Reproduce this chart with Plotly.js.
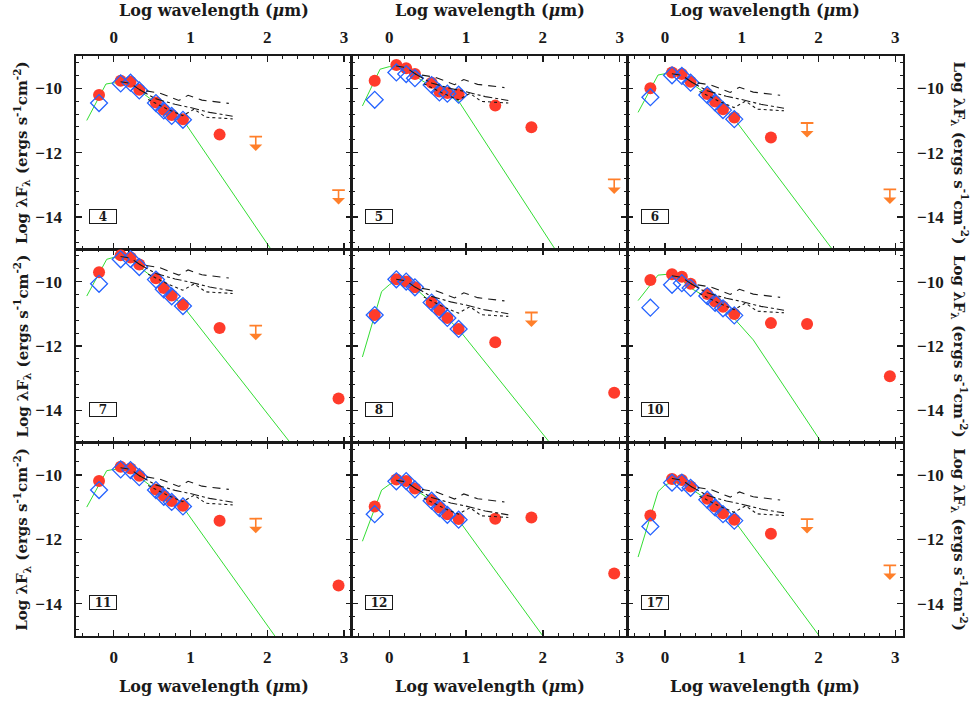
<!DOCTYPE html>
<html><head><meta charset="utf-8">
<script src="https://cdn.plot.ly/plotly-3.0.1.min.js"></script>
<style>html,body{margin:0;padding:0;background:#fff}#chart{width:971px;height:702px}</style>
</head><body><div id="chart"></div>
<script>
// ---------- data ----------
const panelIds = ['4','5','6','7','8','10','11','12','17'];
const xTickVals = [0, 1, 2, 3];
const xTickText = ['0', '1', '2', '3'];
const yTickVals = [-14, -12, -10];
const yTickText = ['\u221214', '\u221212', '\u221210'];

// photometric bands (log micron)
const dotX  = [-0.19, 0.092, 0.22, 0.334, 0.551, 0.653, 0.756, 0.903, 1.380, 1.851, 2.929];
const diamX = [-0.19, 0.092, 0.22, 0.334, 0.551, 0.653, 0.756, 0.903];

const p4Dots  = [-10.21, -9.77, -9.80, -10.05, -10.44, -10.67, -10.83, -10.96, -11.44, null, null];
const p5Dots  = [-9.77, -9.28, -9.38, -9.56, -9.83, -10.10, -10.15, -10.19, -10.54, -11.21, null];
const p6Dots  = [-10.00, -9.51, -9.56, -9.80, -10.18, -10.41, -10.65, -10.91, -11.53, null, null];
const p7Dots  = [-9.71, -9.18, -9.25, -9.47, -9.90, -10.20, -10.43, -10.72, -11.44, null, -13.63];
const p8Dots  = [-11.04, -9.93, -10.00, -10.18, -10.65, -10.88, -11.13, -11.47, -11.88, null, -13.45];
const p10Dots = [-9.95, -9.77, -9.85, -10.07, -10.39, -10.62, -10.78, -11.01, -11.29, -11.32, -12.94];
const p11Dots = [-10.19, -9.75, -9.80, -10.03, -10.45, -10.65, -10.81, -10.96, -11.42, null, -13.43];
const p12Dots = [-10.98, -10.14, -10.19, -10.42, -10.78, -11.01, -11.22, -11.37, -11.36, -11.32, -13.06];
const p17Dots = [-11.26, -10.13, -10.16, -10.36, -10.74, -10.98, -11.19, -11.39, -11.83, null, null];

const p4Diam  = [-10.46, -9.85, -9.83, -10.07, -10.46, -10.69, -10.86, -10.98];
const p5Diam  = [-10.36, -9.51, -9.56, -9.69, -9.90, -10.13, -10.17, -10.20];
const p6Diam  = [-10.28, -9.60, -9.62, -9.83, -10.21, -10.44, -10.68, -10.96];
const p7Diam  = [-10.07, -9.31, -9.30, -9.55, -9.94, -10.24, -10.46, -10.76];
const p8Diam  = [-11.04, -9.93, -10.00, -10.18, -10.65, -10.88, -11.13, -11.47];
const p10Diam = [-10.81, -10.10, -10.05, -10.20, -10.45, -10.66, -10.83, -11.05];
const p11Diam = [-10.47, -9.83, -9.85, -10.07, -10.47, -10.68, -10.84, -10.98];
const p12Diam = [-11.22, -10.20, -10.19, -10.45, -10.80, -11.03, -11.24, -11.39];
const p17Diam = [-11.60, -10.24, -10.24, -10.40, -10.77, -11.01, -11.22, -11.42];

// upper limits
const p4ULx  = [1.851, 2.929], p4ULy  = [-11.50, -13.16];
const p5ULx  = [2.929],        p5ULy  = [-12.83];
const p6ULx  = [1.851, 2.929], p6ULy  = [-11.08, -13.14];
const p7ULx  = [1.851],        p7ULy  = [-11.37];
const p8ULx  = [1.851],        p8ULy  = [-10.96];
const p10ULx = [],             p10ULy = [];
const p11ULx = [1.851],        p11ULy = [-11.36];
const p12ULx = [],             p12ULy = [];
const p17ULx = [1.851, 2.929], p17ULy = [-11.37, -12.81];

// stellar photosphere (green)
const p4GreenX  = [-0.35, -0.1, 0.0, 0.092, 0.22, 0.334, 0.551, 0.903, 2.05];
const p4GreenY  = [-11.00, -9.87, -9.83, -9.85, -9.90, -10.07, -10.46, -10.98, -15.0];
const p5GreenX  = [-0.35, -0.12, 0.0, 0.092, 0.22, 0.334, 0.551, 0.903, 2.16];
const p5GreenY  = [-10.55, -9.41, -9.33, -9.35, -9.45, -9.62, -9.95, -10.40, -15.0];
const p6GreenX  = [-0.35, -0.09, 0.0, 0.092, 0.22, 0.334, 0.551, 0.903, 2.18];
const p6GreenY  = [-10.75, -9.59, -9.55, -9.58, -9.62, -9.83, -10.20, -10.95, -15.0];
const p7GreenX  = [-0.35, -0.09, 0.0, 0.092, 0.22, 0.334, 0.551, 0.903, 2.30];
const p7GreenY  = [-10.45, -9.31, -9.25, -9.30, -9.32, -9.55, -9.94, -10.76, -15.0];
const p8GreenX  = [-0.35, -0.10, 0.0, 0.092, 0.22, 0.334, 0.551, 0.903, 2.09];
const p8GreenY  = [-12.34, -10.31, -10.10, -9.95, -10.00, -10.20, -10.66, -11.48, -15.0];
const p10GreenX = [-0.35, -0.09, 0.05, 0.092, 0.22, 0.334, 0.551, 0.903, 1.15, 2.04];
const p10GreenY = [-10.59, -9.80, -9.77, -9.80, -9.95, -10.20, -10.50, -11.15, -11.81, -15.0];
const p11GreenX = [-0.35, -0.09, 0.0, 0.092, 0.22, 0.334, 0.551, 0.903, 2.10];
const p11GreenY = [-11.00, -9.87, -9.83, -9.85, -9.88, -10.07, -10.47, -11.00, -15.0];
const p12GreenX = [-0.35, -0.10, 0.0, 0.092, 0.22, 0.334, 0.551, 0.903, 2.00];
const p12GreenY = [-12.06, -10.47, -10.30, -10.20, -10.20, -10.45, -10.80, -11.40, -15.0];
const p17GreenX = [-0.35, -0.09, 0.0, 0.092, 0.22, 0.334, 0.551, 0.903, 2.01];
const p17GreenY = [-12.55, -10.52, -10.31, -10.24, -10.26, -10.42, -10.77, -11.42, -15.0];

// disk models (black broken curves)
const bkUx = [0.09, 0.22, 0.34, 0.6, 0.85, 0.97, 1.15, 1.5];
const bkMx = [0.34, 0.55, 0.8, 1.0, 1.25, 1.55];
const bkLx = [0.45, 0.7, 0.9, 1.05, 1.2, 1.55];
const p4BkU  = [-9.80, -9.85, -10.05, -10.15, -10.38, -10.22, -10.37, -10.47];
const p4BkM  = [-10.05, -10.33, -10.50, -10.60, -10.75, -10.87];
const p4BkL  = [-10.35, -10.65, -10.85, -10.65, -10.90, -10.95];
const p5BkU  = [-9.31, -9.36, -9.56, -9.66, -9.89, -9.73, -9.88, -9.98];
const p5BkM  = [-9.56, -9.84, -10.01, -10.11, -10.26, -10.38];
const p5BkL  = [-9.86, -10.16, -10.36, -10.16, -10.41, -10.46];
const p6BkU  = [-9.55, -9.60, -9.80, -9.90, -10.13, -9.97, -10.12, -10.22];
const p6BkM  = [-9.80, -10.08, -10.25, -10.35, -10.50, -10.62];
const p6BkL  = [-10.10, -10.40, -10.60, -10.40, -10.65, -10.70];
const p7BkU  = [-9.22, -9.27, -9.47, -9.57, -9.80, -9.64, -9.79, -9.89];
const p7BkM  = [-9.47, -9.75, -9.92, -10.02, -10.17, -10.29];
const p7BkL  = [-9.77, -10.07, -10.27, -10.07, -10.32, -10.37];
const p8BkU  = [-9.93, -9.98, -10.18, -10.28, -10.51, -10.35, -10.50, -10.60];
const p8BkM  = [-10.18, -10.46, -10.63, -10.73, -10.88, -11.00];
const p8BkL  = [-10.48, -10.78, -10.98, -10.78, -11.03, -11.08];
const p10BkU = [-9.82, -9.87, -10.07, -10.17, -10.40, -10.24, -10.39, -10.49];
const p10BkM = [-10.07, -10.35, -10.52, -10.62, -10.77, -10.89];
const p10BkL = [-10.37, -10.67, -10.87, -10.67, -10.92, -10.97];
const p11BkU = [-9.78, -9.83, -10.03, -10.13, -10.36, -10.20, -10.35, -10.45];
const p11BkM = [-10.03, -10.31, -10.48, -10.58, -10.73, -10.85];
const p11BkL = [-10.33, -10.63, -10.83, -10.63, -10.88, -10.93];
const p12BkU = [-10.17, -10.22, -10.42, -10.52, -10.75, -10.59, -10.74, -10.84];
const p12BkM = [-10.42, -10.70, -10.87, -10.97, -11.12, -11.24];
const p12BkL = [-10.72, -11.02, -11.22, -11.02, -11.27, -11.32];
const p17BkU = [-10.11, -10.16, -10.36, -10.46, -10.69, -10.53, -10.68, -10.78];
const p17BkM = [-10.36, -10.64, -10.81, -10.91, -11.06, -11.18];
const p17BkL = [-10.66, -10.96, -11.16, -10.96, -11.21, -11.26];

const xTitle = 'Log wavelength (<i>\u03bc</i>m)';
const yTitle = 'Log \u03bbF<sub>\u03bb</sub> (ergs s<sup>-1</sup>cm<sup>-2</sup>)';

// ---------- assembly ----------
const panels = [
  {id: panelIds[0], dots: p4Dots,  diam: p4Diam,  ulx: p4ULx,  uly: p4ULy,  gx: p4GreenX,  gy: p4GreenY,  bu: p4BkU,  bm: p4BkM,  bl: p4BkL},
  {id: panelIds[1], dots: p5Dots,  diam: p5Diam,  ulx: p5ULx,  uly: p5ULy,  gx: p5GreenX,  gy: p5GreenY,  bu: p5BkU,  bm: p5BkM,  bl: p5BkL},
  {id: panelIds[2], dots: p6Dots,  diam: p6Diam,  ulx: p6ULx,  uly: p6ULy,  gx: p6GreenX,  gy: p6GreenY,  bu: p6BkU,  bm: p6BkM,  bl: p6BkL},
  {id: panelIds[3], dots: p7Dots,  diam: p7Diam,  ulx: p7ULx,  uly: p7ULy,  gx: p7GreenX,  gy: p7GreenY,  bu: p7BkU,  bm: p7BkM,  bl: p7BkL},
  {id: panelIds[4], dots: p8Dots,  diam: p8Diam,  ulx: p8ULx,  uly: p8ULy,  gx: p8GreenX,  gy: p8GreenY,  bu: p8BkU,  bm: p8BkM,  bl: p8BkL},
  {id: panelIds[5], dots: p10Dots, diam: p10Diam, ulx: p10ULx, uly: p10ULy, gx: p10GreenX, gy: p10GreenY, bu: p10BkU, bm: p10BkM, bl: p10BkL},
  {id: panelIds[6], dots: p11Dots, diam: p11Diam, ulx: p11ULx, uly: p11ULy, gx: p11GreenX, gy: p11GreenY, bu: p11BkU, bm: p11BkM, bl: p11BkL},
  {id: panelIds[7], dots: p12Dots, diam: p12Diam, ulx: p12ULx, uly: p12ULy, gx: p12GreenX, gy: p12GreenY, bu: p12BkU, bm: p12BkM, bl: p12BkL},
  {id: panelIds[8], dots: p17Dots, diam: p17Diam, ulx: p17ULx, uly: p17ULy, gx: p17GreenX, gy: p17GreenY, bu: p17BkU, bm: p17BkM, bl: p17BkL}
];

const RED = '#ff3b2b', BLUE = '#2563ff', GREEN = '#33dd33', ORANGE = '#ff7f2a', INK = '#1a1a1a';
const FONT = 'DejaVu Serif, Liberation Serif, serif';
const TICKFONT = 'Liberation Serif, DejaVu Serif, serif';

const traces = [];
const annotations = [];
const layout = {
  width: 971, height: 702,
  margin: {l: 76, r: 68, t: 56, b: 66, pad: 0},
  paper_bgcolor: '#fff', plot_bgcolor: '#fff',
  showlegend: false, hovermode: false,
  font: {family: FONT, color: INK}
};

panels.forEach((p, k) => {
  const r = Math.floor(k / 3), c = k % 3;
  const s = k === 0 ? '' : String(k + 1);
  const xa = 'x' + s, ya = 'y' + s;

  layout['xaxis' + s] = {
    domain: [c / 3, (c + 1) / 3], anchor: ya,
    range: [-0.49, 3.1], showgrid: false, zeroline: false,
    showline: true, linecolor: INK, linewidth: 1.6, mirror: 'allticks',
    ticks: 'inside', ticklen: 6, tickwidth: 1.3, tickcolor: INK,
    tickmode: 'array', tickvals: xTickVals, ticktext: xTickText,
    showticklabels: r !== 1, side: r === 0 ? 'top' : 'bottom',
    ticklabelstandoff: 5,
    minor: {tickmode: 'linear', tick0: 0, dtick: 0.2, ticks: 'inside', ticklen: 3, tickwidth: 1, tickcolor: INK},
    tickfont: {family: TICKFONT, size: 17, weight: 'bold', color: INK}
  };
  layout['yaxis' + s] = {
    domain: [1 - (r + 1) / 3, 1 - r / 3], anchor: xa,
    range: [-15, -9], showgrid: false, zeroline: false,
    showline: true, linecolor: INK, linewidth: 1.6, mirror: 'allticks',
    ticks: 'inside', ticklen: 6, tickwidth: 1.3, tickcolor: INK,
    tickmode: 'array', tickvals: yTickVals, ticktext: yTickText,
    showticklabels: c !== 1, side: c === 2 ? 'right' : 'left',
    ticklabelstandoff: 9,
    minor: {tickmode: 'linear', tick0: -10, dtick: 0.4, ticks: 'inside', ticklen: 3, tickwidth: 1, tickcolor: INK},
    tickfont: {family: TICKFONT, size: 17, weight: 'bold', color: INK}
  };

  traces.push({x: p.gx, y: p.gy, xaxis: xa, yaxis: ya, mode: 'lines',
    line: {color: GREEN, width: 1}});
  traces.push({x: dotX, y: p.dots, xaxis: xa, yaxis: ya, mode: 'markers',
    marker: {symbol: 'circle', size: 12, color: RED, line: {width: 0}}});
  traces.push({x: diamX, y: p.diam, xaxis: xa, yaxis: ya, mode: 'markers',
    marker: {symbol: 'diamond-open', size: 13, color: BLUE, line: {width: 1.3, color: BLUE}}});
  traces.push({x: bkUx, y: p.bu, xaxis: xa, yaxis: ya, mode: 'lines',
    line: {color: INK, width: 1.1, dash: '8px,6px'}});
  traces.push({x: bkMx, y: p.bm, xaxis: xa, yaxis: ya, mode: 'lines',
    line: {color: INK, width: 1.1, dash: 'dashdot'}});
  traces.push({x: bkLx, y: p.bl, xaxis: xa, yaxis: ya, mode: 'lines',
    line: {color: INK, width: 1.1, dash: 'dot'}});
  if (p.ulx.length) {
    traces.push({x: p.ulx, y: p.uly, xaxis: xa, yaxis: ya, mode: 'markers',
      marker: {symbol: 'line-ew', size: 9, color: ORANGE, line: {width: 1.8, color: ORANGE}}});
    p.ulx.forEach((ux, i) => {
      annotations.push({xref: xa, yref: ya, x: ux, y: p.uly[i], text: '',
        showarrow: true, ax: 0, ay: 16, arrowside: 'start',
        startarrowhead: 1, startarrowsize: 1.35, arrowwidth: 1.6, arrowcolor: ORANGE});
    });
  }

  annotations.push({xref: xa, yref: ya, x: -0.135, y: -13.97, text: '<b>' + p.id + '</b>',
    showarrow: false, font: {family: FONT, size: 12, color: INK},
    bordercolor: INK, borderwidth: 1, borderpad: 1, width: 24, height: 11, bgcolor: '#fff'});
});

// axis titles as annotations
for (let c = 0; c < 3; c++) {
  const cx = (c + 0.5) / 3;
  annotations.push({xref: 'paper', yref: 'paper', x: cx, y: 1.079, text: xTitle, showarrow: false,
    font: {family: FONT, size: 16, weight: 'bold', color: INK}, xanchor: 'center', yanchor: 'middle'});
  annotations.push({xref: 'paper', yref: 'paper', x: cx, y: -0.087, text: xTitle, showarrow: false,
    font: {family: FONT, size: 16, weight: 'bold', color: INK}, xanchor: 'center', yanchor: 'middle'});
}
for (let r = 0; r < 3; r++) {
  const cy = 1 - (r + 0.5) / 3;
  annotations.push({xref: 'paper', yref: 'paper', x: -0.066, y: cy, text: yTitle, showarrow: false,
    textangle: -90, font: {family: FONT, size: 15, weight: 'bold', color: INK}, xanchor: 'center', yanchor: 'middle'});
  annotations.push({xref: 'paper', yref: 'paper', x: 1.069, y: cy, text: yTitle, showarrow: false,
    textangle: 90, font: {family: FONT, size: 15, weight: 'bold', color: INK}, xanchor: 'center', yanchor: 'middle'});
}
layout.annotations = annotations;

Plotly.newPlot('chart', traces, layout, {staticPlot: true, displayModeBar: false});
</script></body></html>
